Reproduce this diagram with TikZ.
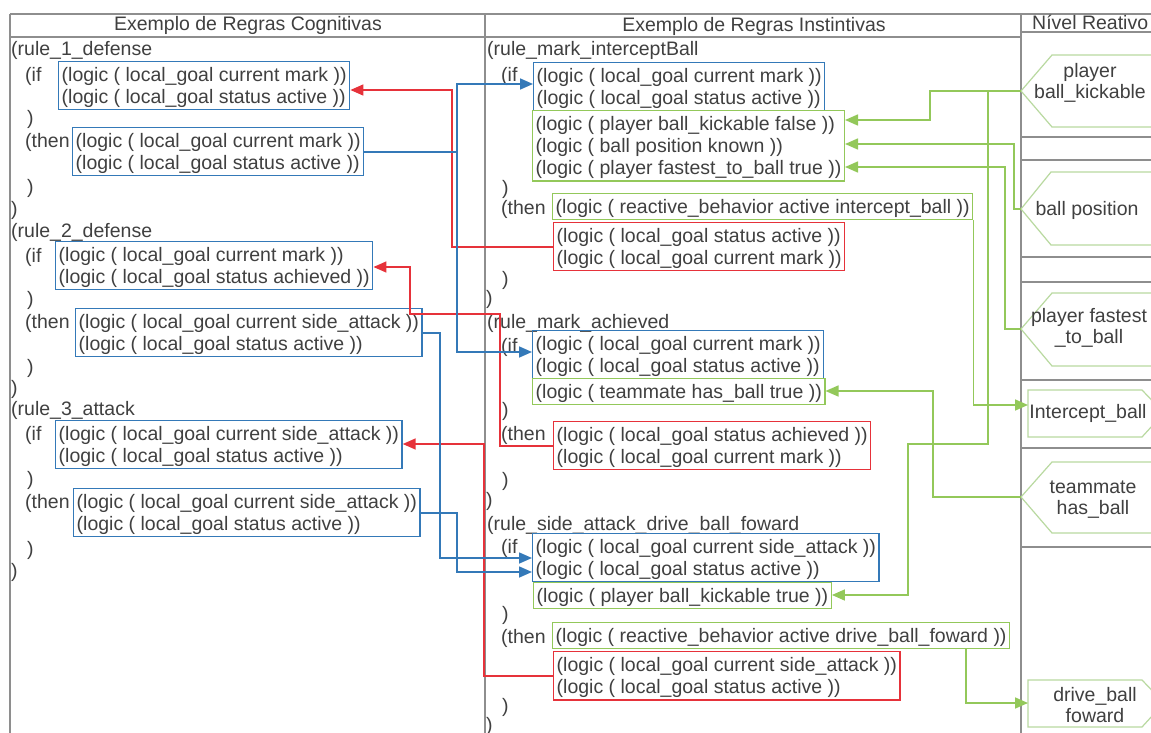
\documentclass[tikz,border=0pt]{standalone}
\usepackage{fontspec}
\setmainfont{Liberation Sans}
\usetikzlibrary{arrows.meta}

\definecolor{frameC}{HTML}{8E8E8E}
\definecolor{txtC}{HTML}{404040}
\definecolor{blueC}{HTML}{3479B8}
\definecolor{redC}{HTML}{E6323A}
\definecolor{greenC}{HTML}{93C85A}
\definecolor{paleC}{HTML}{B9D9A0}

\newcommand{\codefont}{\fontsize{19.5}{21}\selectfont}
\newcommand{\rowstrut}{\rule[-4pt]{0pt}{21pt}}

\begin{document}
\begin{tikzpicture}[x=1pt,y=-1pt,
  frame/.style={draw=frameC,line width=1.8pt},
  lane/.style={draw=frameC,line width=1.2pt},
  sig/.style={draw=paleC,line width=1.2pt,fill=white},
  head/.style={font=\codefont,text=txtC,inner sep=0pt},
  code/.style={font=\codefont,text=txtC,inner sep=0pt,anchor=base west},
  cbox/.style={draw,line width=1.4pt,align=left,font=\codefont,text=txtC,
               inner xsep=3pt,inner ysep=2.5pt,anchor=north west},
  bluebox/.style={cbox,draw=blueC},
  redbox/.style={cbox,draw=redC},
  greenbox/.style={cbox,draw=greenC},
  rtext/.style={font=\codefont,text=txtC,align=center,inner sep=0pt},
  link/.style={line width=1.6pt,-{Triangle[length=13pt,width=11pt]}},
  bluelink/.style={link,blueC},
  redlink/.style={link,redC},
  greenlink/.style={link,greenC}]

\useasboundingbox (0,0) rectangle (1151,733);
\clip (0,0) rectangle (1151,733);
\fill[white] (0,0) rectangle (1151,733);

% table frame
\draw[frame] (10,14) -- (1151,14);
\draw[frame] (10,37) -- (1021,37);
\draw[frame] (1021,32) -- (1151,32);
\draw[frame] (10,14) -- (10,733);
\draw[frame] (485,14) -- (485,733);
\draw[frame] (1021,14) -- (1021,733);
\foreach \yy in {137,160,257,282,380,448,547}
  \draw[lane] (1021,\yy) -- (1151,\yy);

% column headings
\node[head] (hcog) at (248,25) {Exemplo de Regras Cognitivas};
\node[head] (hins) at (754,26) {Exemplo de Regras Instintivas};
\node[head,anchor=west] (hrea) at (1032,22) {Nível Reativo};

% reactive level: sensor inputs and behaviour outputs
\draw[sig] (1021,91) -- (1052,55) -- (1160,55) -- (1160,127) -- (1052,127) -- cycle;
\draw[sig] (1021,209) -- (1051,172) -- (1160,172) -- (1160,245) -- (1051,245) -- cycle;
\draw[sig] (1021,329) -- (1052,293) -- (1160,293) -- (1160,366) -- (1052,366) -- cycle;
\draw[sig] (1028,390) -- (1142,390) -- (1164,413) -- (1142,437) -- (1028,437) -- cycle;
\draw[sig] (1021,497) -- (1052,462) -- (1160,462) -- (1160,533) -- (1052,533) -- cycle;
\draw[sig] (1028,680) -- (1142,680) -- (1164,703) -- (1142,727) -- (1028,727) -- cycle;
\coordinate (kicktip) at (1021,91);
\coordinate (postip) at (1021,209);
\coordinate (fasttip) at (1021,329);
\coordinate (icpin) at (1028,405);
\coordinate (teamtip) at (1021,497);
\coordinate (drvin) at (1028,703);
\node[rtext] (tkick) at (1090,83) {player\\ball\_kickable};
\node[rtext] (tpos) at (1087,210) {ball position};
\node[rtext] (tfast) at (1089,328) {player fastest\\\_to\_ball};
\node[rtext] (ticp) at (1088,413) {Intercept\_ball};
\node[rtext] (tteam) at (1093,500) {teammate\\has\_ball};
\node[rtext] (tdrv) at (1095,705) {drive\_ball\\foward};

% cognitive rules
\node[code] (l1) at (11,56) {(rule\_1\_defense};
\node[code] (l1if) at (25,82) {(if};
\node[code] (l1ca) at (27,125) {)};
\node[code] (l1then) at (25,148) {(then};
\node[code] (l1cb) at (27,193) {)};
\node[code] (l1end) at (11,215) {)};
\node[code] (l2) at (11,237) {(rule\_2\_defense};
\node[code] (l2if) at (25,262) {(if};
\node[code] (l2ca) at (27,305) {)};
\node[code] (l2then) at (25,328) {(then};
\node[code] (l2cb) at (27,373) {)};
\node[code] (l2end) at (11,394) {)};
\node[code] (l3) at (11,415) {(rule\_3\_attack};
\node[code] (l3if) at (25,440) {(if};
\node[code] (l3ca) at (27,485) {)};
\node[code] (l3then) at (25,508) {(then};
\node[code] (l3cb) at (27,555) {)};
\node[code] (l3end) at (11,577) {)};

\node[bluebox] (b1if) at (58,61)
  {\rowstrut(logic ( local\_goal current mark ))\\\rowstrut(logic ( local\_goal status active ))};
\node[bluebox] (b1then) at (72,127)
  {\rowstrut(logic ( local\_goal current mark ))\\\rowstrut(logic ( local\_goal status active ))};
\node[bluebox] (b2if) at (55,241)
  {\rowstrut(logic ( local\_goal current mark ))\\\rowstrut(logic ( local\_goal status achieved ))};
\node[bluebox] (b2then) at (75,308)
  {\rowstrut(logic ( local\_goal current side\_attack ))\\\rowstrut(logic ( local\_goal status active ))};
\node[bluebox] (b3if) at (55,420)
  {\rowstrut(logic ( local\_goal current side\_attack ))\\\rowstrut(logic ( local\_goal status active ))};
\node[bluebox] (b3then) at (73,488)
  {\rowstrut(logic ( local\_goal current side\_attack ))\\\rowstrut(logic ( local\_goal status active ))};

% instinctive rules
\node[code] (m1) at (487,56) {(rule\_mark\_interceptBall};
\node[code] (m1if) at (501,82) {(if};
\node[code] (m1ca) at (502,194) {)};
\node[code] (m1then) at (501,214) {(then};
\node[code] (m1cb) at (502,285) {)};
\node[code] (m1end) at (486,304) {)};
\node[code] (m2) at (487,328) {(rule\_mark\_achieved};
\node[code] (m2if) at (501,352) {(if};
\node[code] (m2ca) at (502,416) {)};
\node[code] (m2then) at (501,440) {(then};
\node[code] (m2cb) at (502,486) {)};
\node[code] (m2end) at (486,506) {)};
\node[code] (m3) at (487,530) {(rule\_side\_attack\_drive\_ball\_foward};
\node[code] (m3if) at (501,553) {(if};
\node[code] (m3ca) at (502,620) {)};
\node[code] (m3then) at (501,643) {(then};
\node[code] (m3cb) at (502,712) {)};
\node[code] (m3end) at (486,731) {)};

\node[bluebox] (m1ifb) at (533,62)
  {\rowstrut(logic ( local\_goal current mark ))\\\rowstrut(logic ( local\_goal status active ))};
\node[greenbox] (m1cond) at (532,110)
  {\rowstrut(logic ( player ball\_kickable false ))\\\rowstrut(logic ( ball position known ))\\\rowstrut(logic ( player fastest\_to\_ball true ))};
\node[greenbox] (m1thg) at (552,193)
  {\rowstrut(logic ( reactive\_behavior active intercept\_ball ))};
\node[redbox] (m1red) at (553,222)
  {\rowstrut(logic ( local\_goal status active ))\\\rowstrut(logic ( local\_goal current mark ))};
\node[bluebox] (m2ifb) at (532,330)
  {\rowstrut(logic ( local\_goal current mark ))\\\rowstrut(logic ( local\_goal status active ))};
\node[greenbox] (m2cond) at (532,378)
  {\rowstrut(logic ( teammate has\_ball true ))};
\node[redbox] (m2red) at (553,421)
  {\rowstrut(logic ( local\_goal status achieved ))\\\rowstrut(logic ( local\_goal current mark ))};
\node[bluebox] (m3ifb) at (532,533)
  {\rowstrut(logic ( local\_goal current side\_attack ))\\\rowstrut(logic ( local\_goal status active ))};
\node[greenbox] (m3cond) at (533,582)
  {\rowstrut(logic ( player ball\_kickable true ))};
\node[greenbox] (m3thg) at (552,622)
  {\rowstrut(logic ( reactive\_behavior active drive\_ball\_foward ))};
\node[redbox] (m3red) at (553,651)
  {\rowstrut(logic ( local\_goal current side\_attack ))\\\rowstrut(logic ( local\_goal status active ))};

% bend points of the connectors
\coordinate (kra) at (452,90);
\coordinate (krb) at (500,314);
\coordinate (krc) at (410,267);
\coordinate (krd) at (484,444);
\coordinate (kba) at (457,84);
\coordinate (kbb) at (457,352);
\coordinate (kbc) at (440,558);
\coordinate (kbd) at (457,572);
\coordinate (kga) at (930,120);
\coordinate (kgb) at (988,444);
\coordinate (kgc) at (908,595);
\coordinate (kgd) at (1014,144);
\coordinate (kge) at (1005,167);
\coordinate (kgf) at (933,391);
\coordinate (kgg) at (966,703);

% goal feedback from instinctive rules to cognitive rules
\draw[redlink] (m1red.west) -| (kra) -- (b1if.east |- kra);
\draw[redlink] (m2red.west) -| (krb) -| (krc) -- (b2if.east |- krc);
\draw[redlink] (m3red.west) -| (krd) -- (b3if.east |- krd);

% goals set by cognitive rules
\draw[bluelink] (b1then.east) -| (kba) -- (m1ifb.west |- kba);
\draw[bluelink] (b1then.east) -| (kbb) -- (m2ifb.west |- kbb);
\draw[bluelink] (b2then.east) -| (kbc) -- (m3ifb.west |- kbc);
\draw[bluelink] (b3then.east) -| (kbd) -- (m3ifb.west |- kbd);

% reactive level links
\draw[greenlink] (kicktip) -| (kga) -- (m1cond.east |- kga);
\draw[greenlink] (kicktip) -| (kgb) -| (kgc) -- (m3cond.east |- kgc);
\draw[greenlink] (postip) -| (kgd) -- (m1cond.east |- kgd);
\draw[greenlink] (fasttip) -| (kge) -- (m1cond.east |- kge);
\draw[greenlink] (m1thg.south east) |- (icpin);
\draw[greenlink] (teamtip) -| (kgf) -- (m2cond.east |- kgf);
\draw[greenlink] (m3thg.south -| kgg) |- (drvin);

\end{tikzpicture}
\end{document}
